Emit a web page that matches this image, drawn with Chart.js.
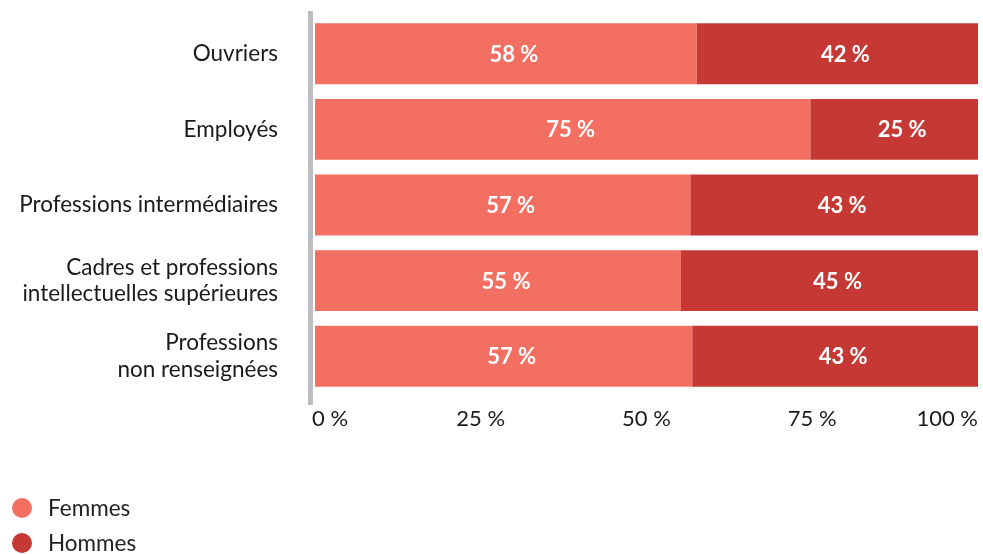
<!DOCTYPE html>
<html>
<head>
<meta charset="utf-8">
<script src="https://cdn.jsdelivr.net/npm/chart.js@4.4.1/dist/chart.umd.min.js"></script>
<style>
  html, body { margin: 0; padding: 0; background: #fff; }
  #wrap { width: 983px; height: 554px; position: relative; }
</style>
</head>
<body>
<div id="wrap"><canvas id="chart"></canvas></div>
<script>
// categories and values (share of women / men, %)
var categories = [
  "Ouvriers",
  "Employés",
  "Professions intermédiaires",
  ["Cadres et professions", "intellectuelles supérieures"],
  ["Professions", "non renseignées"]
];
var femmes = [57.6, 74.7, 56.6, 55.2, 56.9];
var hommes = [42.4, 25.3, 43.4, 44.8, 43.1];
var tickValues = [0, 25, 50, 75, 100];
var seriesNames = ["Femmes", "Hommes"];
var seriesColors = ["#F26F61", "#C63833"];

var FONT = "Lato, 'Open Sans', sans-serif";
var SIZE = 22.5;

// vertical grey axis line, a bit longer than the plot
var axisLinePlugin = {
  id: "axisLine",
  beforeDatasetsDraw: function (chart) {
    var ctx = chart.ctx;
    var area = chart.chartArea;
    ctx.save();
    ctx.fillStyle = "#BDBEC2";
    ctx.fillRect(area.left - 7, area.top - 5, 5, area.bottom - area.top + 16);
    ctx.restore();
  }
};

// percentage labels inside the bars
var barLabelPlugin = {
  id: "barLabels",
  afterDatasetsDraw: function (chart) {
    var ctx = chart.ctx;
    ctx.save();
    ctx.font = "bold 22px " + FONT;
    ctx.fillStyle = "#fff";
    ctx.textAlign = "center";
    ctx.textBaseline = "middle";
    chart.data.datasets.forEach(function (ds, i) {
      var meta = chart.getDatasetMeta(i);
      meta.data.forEach(function (bar, j) {
        var x = (bar.x + bar.base) / 2 + 8;
        ctx.fillText(Math.round(ds.data[j]) + " %", x, bar.y + 1);
      });
    });
    ctx.restore();
  }
};

// x tick labels: first one left aligned, last one right aligned
var xTickPlugin = {
  id: "xTicks",
  afterDraw: function (chart) {
    var ctx = chart.ctx;
    var xs = chart.scales.x;
    ctx.save();
    ctx.font = "22px " + FONT;
    ctx.fillStyle = "#1a1a1a";
    ctx.textBaseline = "middle";
    tickValues.forEach(function (v, i) {
      var px = xs.getPixelForValue(v);
      if (i === 0) { ctx.textAlign = "left"; px -= 3; }
      else if (i === tickValues.length - 1) { ctx.textAlign = "right"; }
      else { ctx.textAlign = "center"; }
      ctx.fillText(v + " %", px, 419);
    });
    ctx.restore();
  }
};

// legend drawn as a vertical list at the bottom left
var legendPlugin = {
  id: "vLegend",
  afterDraw: function (chart) {
    var ctx = chart.ctx;
    ctx.save();
    ctx.font = SIZE + "px " + FONT;
    ctx.textAlign = "left";
    ctx.textBaseline = "middle";
    chart.data.datasets.forEach(function (ds, i) {
      var y = 508 + i * 35;
      ctx.fillStyle = ds.backgroundColor;
      ctx.beginPath();
      ctx.arc(22, y, 10, 0, Math.PI * 2);
      ctx.fill();
      ctx.fillStyle = "#222";
      ctx.fillText(ds.label, 48, y + 1);
    });
    ctx.restore();
  }
};

var ctx = document.getElementById("chart").getContext("2d");
var chart = new Chart(ctx, {
  type: "bar",
  data: {
    labels: categories,
    datasets: [
      { label: seriesNames[0], data: femmes, backgroundColor: seriesColors[0] },
      { label: seriesNames[1], data: hommes, backgroundColor: seriesColors[1] }
    ]
  },
  options: {
    indexAxis: "y",
    responsive: true,
    maintainAspectRatio: false,
    animation: false,
    layout: { padding: { top: 16, right: 5, bottom: 160, left: 0 } },
    datasets: { bar: { barPercentage: 0.805, categoryPercentage: 1 } },
    plugins: {
      legend: { display: false },
      tooltip: { enabled: false }
    },
    scales: {
      x: {
        stacked: true,
        min: 0,
        max: 100,
        grid: { display: false, drawTicks: false },
        border: { display: false },
        ticks: { display: false }
      },
      y: {
        stacked: true,
        grid: { display: false, drawTicks: false },
        border: { display: false },
        afterFit: function (scale) {
          scale.width = 315;
          scale.paddingTop = 0;
          scale.paddingBottom = 0;
        },
        ticks: {
          padding: 37,
          color: "#1a1a1a",
          font: { family: FONT, size: SIZE, lineHeight: 1.16 }
        }
      }
    }
  },
  plugins: [axisLinePlugin, barLabelPlugin, xTickPlugin, legendPlugin]
});
</script>
</body>
</html>
